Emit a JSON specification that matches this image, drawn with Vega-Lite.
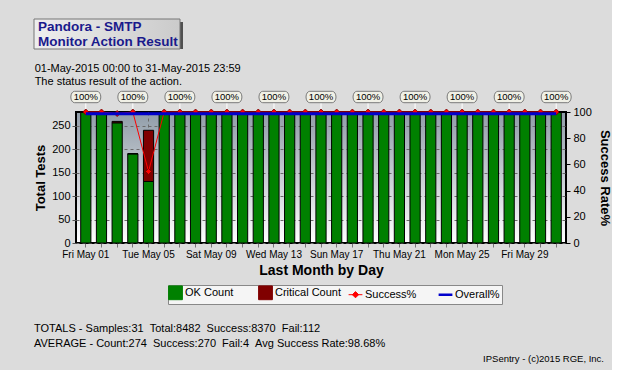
{
  "$schema": "https://vega.github.io/schema/vega-lite/v6.json",
  "background": "#dcdcdc",
  "padding": {"left": 33, "top": 18, "right": 0, "bottom": 0},
  "spacing": 12,
  "columns": 1,
  "resolve": {"scale": {"color": "independent"}, "legend": {"color": "independent"}},
  "datasets": {
    "days": [
      {"date": "2015-05-01", "OK Count": 278, "Critical Count": 0, "Success%": 100},
      {"date": "2015-05-02", "OK Count": 279, "Critical Count": 0, "Success%": 100},
      {"date": "2015-05-03", "OK Count": 256, "Critical Count": 3, "Success%": 98.84},
      {"date": "2015-05-04", "OK Count": 190, "Critical Count": 0, "Success%": 100},
      {"date": "2015-05-05", "OK Count": 131, "Critical Count": 109, "Success%": 54.58},
      {"date": "2015-05-06", "OK Count": 278, "Critical Count": 0, "Success%": 100},
      {"date": "2015-05-07", "OK Count": 278, "Critical Count": 0, "Success%": 100},
      {"date": "2015-05-08", "OK Count": 279, "Critical Count": 0, "Success%": 100},
      {"date": "2015-05-09", "OK Count": 278, "Critical Count": 0, "Success%": 100},
      {"date": "2015-05-10", "OK Count": 278, "Critical Count": 0, "Success%": 100},
      {"date": "2015-05-11", "OK Count": 279, "Critical Count": 0, "Success%": 100},
      {"date": "2015-05-12", "OK Count": 278, "Critical Count": 0, "Success%": 100},
      {"date": "2015-05-13", "OK Count": 278, "Critical Count": 0, "Success%": 100},
      {"date": "2015-05-14", "OK Count": 279, "Critical Count": 0, "Success%": 100},
      {"date": "2015-05-15", "OK Count": 278, "Critical Count": 0, "Success%": 100},
      {"date": "2015-05-16", "OK Count": 278, "Critical Count": 0, "Success%": 100},
      {"date": "2015-05-17", "OK Count": 279, "Critical Count": 0, "Success%": 100},
      {"date": "2015-05-18", "OK Count": 278, "Critical Count": 0, "Success%": 100},
      {"date": "2015-05-19", "OK Count": 278, "Critical Count": 0, "Success%": 100},
      {"date": "2015-05-20", "OK Count": 279, "Critical Count": 0, "Success%": 100},
      {"date": "2015-05-21", "OK Count": 278, "Critical Count": 0, "Success%": 100},
      {"date": "2015-05-22", "OK Count": 278, "Critical Count": 0, "Success%": 100},
      {"date": "2015-05-23", "OK Count": 279, "Critical Count": 0, "Success%": 100},
      {"date": "2015-05-24", "OK Count": 278, "Critical Count": 0, "Success%": 100},
      {"date": "2015-05-25", "OK Count": 278, "Critical Count": 0, "Success%": 100},
      {"date": "2015-05-26", "OK Count": 279, "Critical Count": 0, "Success%": 100},
      {"date": "2015-05-27", "OK Count": 278, "Critical Count": 0, "Success%": 100},
      {"date": "2015-05-28", "OK Count": 278, "Critical Count": 0, "Success%": 100},
      {"date": "2015-05-29", "OK Count": 279, "Critical Count": 0, "Success%": 100},
      {"date": "2015-05-30", "OK Count": 278, "Critical Count": 0, "Success%": 100},
      {"date": "2015-05-31", "OK Count": 278, "Critical Count": 0, "Success%": 100}
    ],
    "header": [
      {"line": "Pandora - SMTP"},
      {"line": "Monitor Action Result"}
    ],
    "footer": [
      {"text": "TOTALS - Samples:31 \u00a0Total:8482 \u00a0Success:8370 \u00a0Fail:112", "kind": "summary"},
      {"text": "AVERAGE - Count:274 \u00a0Success:270 \u00a0Fail:4 \u00a0Avg Success Rate:98.68%", "kind": "summary"},
      {"text": "IPSentry - (c)2015 RGE, Inc.", "kind": "credit"}
    ]
  },
  "concat": [
    {
      "width": 104,
      "height": 30,
      "data": {"name": "header"},
      "layer": [
        {
          "data": {"values": [{}]},
          "mark": {"type": "rect", "fill": "#505050", "xOffset": 3, "x2Offset": 3, "yOffset": 3, "y2Offset": 3},
          "encoding": {
            "x": {"datum": 0, "type": "quantitative", "scale": {"domain": [0, 1], "range": [-42, 104]}, "axis": null},
            "x2": {"datum": 1}
          }
        },
        {
          "data": {"values": [{}]},
          "mark": {
            "type": "rect",
            "fill": {"gradient": "linear", "x1": 0, "y1": 0, "x2": 1, "y2": 0, "stops": [{"offset": 0, "color": "#eeeeee"}, {"offset": 1, "color": "#cbcbcb"}]},
            "stroke": "#777777",
            "strokeWidth": 1
          },
          "encoding": {
            "x": {"datum": 0, "type": "quantitative", "scale": {"domain": [0, 1], "range": [-42, 104]}, "axis": null},
            "x2": {"datum": 1}
          }
        },
        {
          "mark": {"type": "text", "align": "left", "dx": 4, "fontSize": 13.5, "fontWeight": "bold", "color": "#1a1a8c"},
          "encoding": {
            "y": {"field": "line", "type": "nominal", "sort": null, "axis": null, "scale": {"padding": 0.5}},
            "x": {"datum": 0, "type": "quantitative", "scale": {"domain": [0, 1], "range": [-42, 104]}, "axis": null},
            "text": {"field": "line"}
          }
        }
      ]
    },
    {
      "width": 490,
      "height": 131,
      "data": {"name": "days"},
      "title": {
        "text": ["01-May-2015 00:00 to 31-May-2015 23:59", "The status result of the action."],
        "anchor": "start",
        "fontSize": 11,
        "fontWeight": "normal",
        "color": "black",
        "offset": 2,
        "lineHeight": 13
      },
      "view": {
        "fill": {"gradient": "linear", "x1": 0, "y1": 0, "x2": 0, "y2": 1, "stops": [{"offset": 0, "color": "#909ca8"}, {"offset": 1, "color": "#ffffff"}]},
        "stroke": "black",
        "strokeWidth": 2
      },
      "encoding": {
        "x": {
          "field": "date",
          "type": "ordinal",
          "scale": {"paddingInner": 0.35, "paddingOuter": 0.3},
          "axis": {
            "title": "Last Month by Day",
            "titleFontSize": 14,
            "titleFontWeight": "bold",
            "titleColor": "black",
            "titlePadding": 4,
            "labelAngle": 0,
            "labelFontSize": 10,
            "labelColor": "black",
            "labelPadding": 2,
            "labelOverlap": false,
            "labelExpr": "(utcdate(toDate(datum.value)) - 1) % 4 == 0 ? utcFormat(toDate(datum.value), '%a %b %d') : ''",
            "tickColor": "#777777",
            "tickSize": 4,
            "domain": false,
            "grid": true,
            "gridDash": [3, 3],
            "gridColor": "#6a6a6a",
            "gridOpacity": {"condition": {"test": "(utcdate(toDate(datum.value)) - 1) % 4 == 0", "value": 1}, "value": 0}
          }
        }
      },
      "layer": [
        {
          "transform": [{"fold": ["OK Count", "Critical Count"], "as": ["series", "count"]}],
          "mark": {"type": "bar", "stroke": "black", "strokeWidth": 1},
          "encoding": {
            "y": {
              "field": "count",
              "type": "quantitative",
              "stack": "zero",
              "scale": {"domain": [0, 279], "nice": false},
              "axis": {
                "title": "Total Tests",
                "values": [0, 50, 100, 150, 200, 250],
                "grid": true,
                "gridDash": [3, 3],
                "gridColor": "#6a6a6a",
                "domain": false,
                "tickColor": "#555555",
                "tickSize": 4,
                "labelFontSize": 11,
                "labelColor": "black",
                "labelPadding": 2,
                "labelOverlap": false,
                "titleFontSize": 13,
                "titleFontWeight": "bold",
                "titleColor": "black",
                "titlePadding": 4
              }
            },
            "color": {
              "field": "series",
              "type": "nominal",
              "scale": {"domain": ["OK Count", "Critical Count", "Success%", "Overall%"], "range": ["#008000", "#800000", "#ff0000", "#0000cc"]},
              "legend": {
                "title": null,
                "orient": "none",
                "legendX": 92,
                "legendY": 173,
                "direction": "horizontal",
                "columns": 4,
                "gridAlign": "all",
                "fillColor": "#f5f5f5",
                "strokeColor": "#888888",
                "padding": 2,
                "labelFontSize": 11,
                "labelColor": "black",
                "labelOffset": 4,
                "columnPadding": 1,
                "symbolSize": 190,
                "symbolType": {"expr": "datum.value === 'Success%' ? 'M-1,0L1,0M0,-0.45L0.45,0L0,0.45L-0.45,0Z' : datum.value === 'Overall%' ? 'M-1,0L1,0' : 'square'"},
                "symbolStrokeColor": {"expr": "datum.value === 'Success%' ? '#ff0000' : datum.value === 'Overall%' ? '#0000cc' : 'black'"},
                "symbolStrokeWidth": {"expr": "datum.value === 'Overall%' ? 2.5 : 1"}
              }
            },
            "order": {"field": "series", "sort": "descending"}
          }
        },
        {
          "layer": [
            {
              "transform": [{"filter": "(utcdate(toDate(datum.date)) - 1) % 3 == 0"}],
              "mark": {"type": "rule", "color": "white", "strokeWidth": 1, "y2Offset": -9},
              "encoding": {
                "y": {"datum": 100, "type": "quantitative", "scale": {"domain": [0, 100], "nice": false},
                  "axis": {"orient": "right", "title": "Success Rate%", "values": [0, 20, 40, 60, 80, 100], "grid": false, "domain": false, "tickColor": "black", "tickSize": 4, "labelFontSize": 11, "labelColor": "black", "labelPadding": 3, "labelOverlap": false, "titleFontSize": 13, "titleFontWeight": "bold", "titleColor": "black", "titlePadding": 6}},
                "y2": {"datum": 100}
              }
            },
            {
              "mark": {"type": "line", "strokeWidth": 1, "point": {"shape": "diamond", "filled": true, "size": 36, "stroke": "#700000", "strokeWidth": 0.8}},
              "encoding": {
                "y": {"field": "Success%", "type": "quantitative", "scale": {"domain": [0, 100], "nice": false},
                  "axis": {"orient": "right", "title": "Success Rate%", "values": [0, 20, 40, 60, 80, 100], "grid": false, "domain": false, "tickColor": "black", "tickSize": 4, "labelFontSize": 11, "labelColor": "black", "labelPadding": 3, "labelOverlap": false, "titleFontSize": 13, "titleFontWeight": "bold", "titleColor": "black", "titlePadding": 6}},
                "color": {"datum": "Success%"}
              }
            },
            {
              "mark": {"type": "line", "strokeWidth": 3},
              "encoding": {
                "y": {"datum": 98.68, "type": "quantitative", "scale": {"domain": [0, 100], "nice": false},
                  "axis": {"orient": "right", "title": "Success Rate%", "values": [0, 20, 40, 60, 80, 100], "grid": false, "domain": false, "tickColor": "black", "tickSize": 4, "labelFontSize": 11, "labelColor": "black", "labelPadding": 3, "labelOverlap": false, "titleFontSize": 13, "titleFontWeight": "bold", "titleColor": "black", "titlePadding": 6}},
                "color": {"datum": "Overall%"}
              }
            },
            {
              "transform": [{"filter": "(utcdate(toDate(datum.date)) - 1) % 3 == 0"}],
              "mark": {"type": "point", "shape": "M-0.75,-0.38L0.75,-0.38A0.25,0.38 0 0 1 0.75,0.38L-0.75,0.38A0.25,0.38 0 0 1 -0.75,-0.38Z", "size": 900, "filled": true, "fill": "#f0f0e6", "stroke": "#7a7a7a", "strokeWidth": 1, "opacity": 1, "yOffset": -15},
              "encoding": {
                "y": {"datum": 100, "type": "quantitative", "scale": {"domain": [0, 100], "nice": false},
                  "axis": {"orient": "right", "title": "Success Rate%", "values": [0, 20, 40, 60, 80, 100], "grid": false, "domain": false, "tickColor": "black", "tickSize": 4, "labelFontSize": 11, "labelColor": "black", "labelPadding": 3, "labelOverlap": false, "titleFontSize": 13, "titleFontWeight": "bold", "titleColor": "black", "titlePadding": 6}}
              }
            },
            {
              "transform": [{"filter": "(utcdate(toDate(datum.date)) - 1) % 3 == 0"}],
              "mark": {"type": "text", "fontSize": 9.5, "yOffset": -15, "color": "black", "text": {"expr": "format(datum['Success%'], '.0f') + '%'"}},
              "encoding": {
                "y": {"datum": 100, "type": "quantitative", "scale": {"domain": [0, 100], "nice": false},
                  "axis": {"orient": "right", "title": "Success Rate%", "values": [0, 20, 40, 60, 80, 100], "grid": false, "domain": false, "tickColor": "black", "tickSize": 4, "labelFontSize": 11, "labelColor": "black", "labelPadding": 3, "labelOverlap": false, "titleFontSize": 13, "titleFontWeight": "bold", "titleColor": "black", "titlePadding": 6}}
              }
            }
          ]
        }
      ],
      "resolve": {"scale": {"y": "independent"}}
    },
    {
      "width": 528,
      "height": 52,
      "data": {"name": "footer"},
      "encoding": {
        "y": {"field": "text", "type": "nominal", "sort": null, "axis": null, "scale": {"padding": 0.75}},
        "text": {"field": "text"}
      },
      "layer": [
        {
          "transform": [{"filter": "datum.kind === 'summary'"}],
          "mark": {"type": "text", "align": "left", "fontSize": 11, "color": "black"},
          "encoding": {"x": {"datum": 0, "type": "quantitative", "scale": {"domain": [0, 1], "range": [-42, 528]}, "axis": null}}
        },
        {
          "transform": [{"filter": "datum.kind === 'credit'"}],
          "mark": {"type": "text", "align": "right", "fontSize": 9.5, "color": "black"},
          "encoding": {"x": {"datum": 1, "type": "quantitative", "scale": {"domain": [0, 1], "range": [-42, 528]}, "axis": null}}
        }
      ]
    }
  ],
  "config": {
    "font": "Liberation Sans",
    "view": {"stroke": null}
  }
}
